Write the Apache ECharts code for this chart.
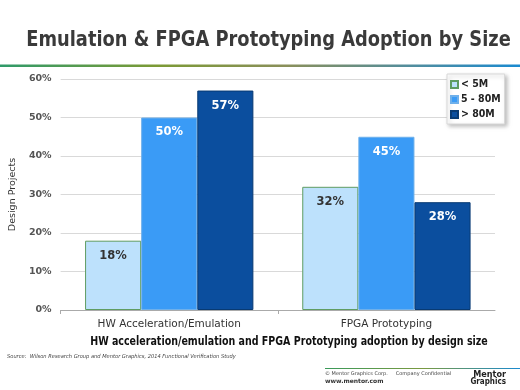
<!DOCTYPE html>
<html><head><meta charset="utf-8">
<script src="https://cdn.jsdelivr.net/npm/echarts@6/dist/echarts.min.js"></script>
<style>html,body{margin:0;padding:0;background:#fff}#c{width:520px;height:390px}</style>
</head><body><div id="c"></div>
<script>
const categories = ['HW Acceleration/Emulation', 'FPGA Prototyping'];
const seriesNames = ['< 5M', '5 - 80M', '> 80M'];
const smallDesigns = [18, 32];
const mediumDesigns = [50, 45];
const largeDesigns = [57, 28];
const yMin = 0, yMax = 60, yStep = 10;

const chart = echarts.init(document.getElementById('c'));
const F = 'DejaVu Sans';
const FC = 'DejaVu Sans Condensed';
function lbl(color){
  return {show:true, position:'insideTop', distance:9, formatter:'{c}%', color:color,
    fontFamily:F, fontWeight:'bold', fontSize:11.5};
}
const styles = [
  {color:'#BDE1FC', borderColor:'#5f9c62', borderWidth:1, lc:'#333'},
  {color:'#3A9BF6', borderColor:'#6fb0ea', borderWidth:1, lc:'#fff'},
  {color:'#0B4E9E', borderColor:'#083a73', borderWidth:1, lc:'#fff'}
];
const data = [smallDesigns, mediumDesigns, largeDesigns];
chart.setOption({
  animation:false,
  grid:{left:59, right:25, top:79, bottom:80},
  legend:{
    orient:'vertical', left:447, top:74, padding:[5,4,4,3], itemGap:4,
    itemWidth:7, itemHeight:7, icon:'rect',
    backgroundColor:'#fff', borderColor:'#d8d8d8', borderWidth:1,
    shadowColor:'rgba(0,0,0,0.25)', shadowBlur:4, shadowOffsetX:2, shadowOffsetY:2,
    textStyle:{fontFamily:FC, fontWeight:'bold', fontSize:10.5, color:'#222', padding:[0,0,0,-2]},
    data:seriesNames
  },
  xAxis:{
    type:'category', data:categories,
    axisLine:{lineStyle:{color:'#aaa'}},
    axisTick:{show:true, length:4, lineStyle:{color:'#aaa'}},
    axisLabel:{fontFamily:F, fontSize:10.5, color:'#333', margin:9}
  },
  yAxis:{
    type:'value', min:yMin, max:yMax, interval:yStep,
    name:'Design Projects', nameLocation:'middle', nameGap:38,
    nameTextStyle:{fontFamily:F, fontSize:9.5, color:'#333'},
    axisLine:{show:false}, axisTick:{show:false},
    axisLabel:{formatter:'{value}%', fontFamily:F, fontWeight:'bold', fontSize:9.5, color:'#555', margin:9},
    splitLine:{lineStyle:{color:'#d9d9d9'}}
  },
  series: seriesNames.map((n,i)=>({
    name:n, type:'bar', data:data[i], barGap:'0%', barCategoryGap:'22.5%',
    itemStyle:{color:styles[i].color, borderColor:styles[i].borderColor, borderWidth:styles[i].borderWidth},
    label:lbl(styles[i].lc)
  })),
  graphic:[
    {type:'text', x:268.5, y:41, scaleX:0.85, style:{text:'Emulation & FPGA Prototyping Adoption by Size',
      font:'bold 21px "DejaVu Sans"', fill:'#3a3a3a', textAlign:'center', textVerticalAlign:'middle'}},
    {type:'rect', left:0, top:64.5, shape:{width:520, height:2.5},
      style:{fill:new echarts.graphic.LinearGradient(0,0,1,0,[
        {offset:0,color:'#2f9a6a'},{offset:0.3,color:'#7c9a35'},{offset:0.55,color:'#8a8f5a'},
        {offset:0.8,color:'#4f8da0'},{offset:1,color:'#1a8ad0'}])}},
    {type:'text', x:289, y:342, scaleX:0.88, style:{text:'HW acceleration/emulation and FPGA Prototyping adoption by design size',
      font:'bold 12px "DejaVu Sans Condensed"', fill:'#111', textAlign:'center', textVerticalAlign:'middle'}},
    {type:'text', x:7, y:357, scaleX:0.93, style:{text:'Source:  Wilson Research Group and Mentor Graphics, 2014 Functional Verification Study',
      font:'italic 5.5px "DejaVu Sans"', fill:'#444', textVerticalAlign:'middle'}},
    {type:'rect', left:325, top:368, shape:{width:195, height:1},
      style:{fill:new echarts.graphic.LinearGradient(0,0,1,0,[
        {offset:0,color:'#3a9a5a'},{offset:0.5,color:'#7a9a40'},{offset:1,color:'#1a8ad0'}])}},
    {type:'text', left:325, top:371, style:{text:'© Mentor Graphics Corp.     Company Confidential',
      font:'5px "DejaVu Sans"', fill:'#444'}},
    {type:'text', left:325, top:378, style:{text:'www.mentor.com',
      font:'bold 6px "DejaVu Sans"', fill:'#333'}},
    {type:'text', x:506, y:375, style:{text:'Mentor',
      font:'bold 9px "DejaVu Sans Condensed"', fill:'#222', textAlign:'right', textVerticalAlign:'middle'}},
    {type:'text', x:506, y:382, style:{text:'Graphics',
      font:'bold 8px "DejaVu Sans Condensed"', fill:'#222', textAlign:'right', textVerticalAlign:'middle'}}
  ]
});
</script></body></html>
